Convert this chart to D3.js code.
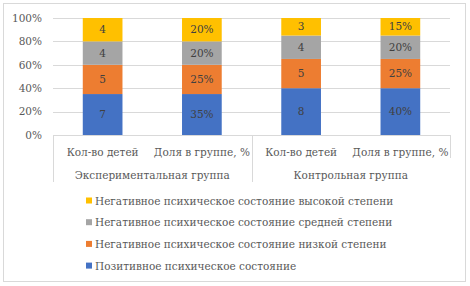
<!DOCTYPE html>
<html lang="ru">
<head>
<meta charset="UTF-8">
<script src="https://d3js.org/d3.v7.min.js"></script>
<style>
  body { margin: 0; background: #fff; }
</style>
</head>
<body>
<svg id="chart" width="470" height="286"></svg>
<script>
// categories
const groups = ["Экспериментальная группа", "Контрольная группа"];
const subCats = ["Кол-во детей", "Доля в группе, %"];
const seriesNames = [
  "Позитивное психическое состояние",
  "Негативное психическое состояние низкой степени",
  "Негативное психическое состояние средней степени",
  "Негативное психическое состояние высокой степени"
];
const seriesColors = ["#4472C4", "#ED7D31", "#A5A5A5", "#FFC000"];

// values per column (exp: count, share; ctrl: count, share)
const positive = [7, 35, 8, 40];
const negLow = [5, 25, 5, 25];
const negMid = [4, 20, 4, 20];
const negHigh = [4, 20, 3, 15];
const suffix = ["", "%", "", "%"];
const yTicks = [0, 20, 40, 60, 80, 100];

const FONT = "'DejaVu Serif', serif";

const values = [positive, negLow, negMid, negHigh];
const cols = [];
groups.forEach((g, gi) => subCats.forEach((s, si) => cols.push({ key: gi + "-" + si, group: g, gi, sub: s })));

const svg = d3.select("#chart");
const margin = { left: 53, top: 18 };
const W = 470, H = 286;
const plotW = 450 - margin.left, plotH = 135 - margin.top;

// border
svg.append("rect").attr("x", 3.5).attr("y", 3.5).attr("width", W - 8).attr("height", H - 8)
  .attr("fill", "none").attr("stroke", "#d9d9d9");

const g = svg.append("g").attr("transform", `translate(${margin.left},${margin.top})`);

const x = d3.scaleBand().domain(cols.map(c => c.key)).range([0, plotW]).paddingInner(0.6).paddingOuter(0.3);
const y = d3.scaleLinear().domain([0, 100]).range([plotH, 0]);

// gridlines
g.selectAll(".grid").data(yTicks.slice(1)).enter().append("line")
  .attr("x1", 0).attr("x2", plotW)
  .attr("y1", d => Math.round(y(d)) + 0.5).attr("y2", d => Math.round(y(d)) + 0.5)
  .attr("stroke", "#d9d9d9");

// y axis labels
const yAxis = g.append("g").call(d3.axisLeft(y).tickValues(yTicks).tickFormat(d => d + "%").tickSize(0).tickPadding(11));
yAxis.attr("font-family", null).attr("font-size", null);
yAxis.select(".domain").remove();
yAxis.selectAll("text").attr("fill", "#595959");

// stacked bars (100%)
const stackData = cols.map((c, i) => {
  const total = d3.sum(values, v => v[i]);
  let acc = 0;
  return values.map((v, si) => {
    const y0 = acc / total * 100;
    acc += v[i];
    return { col: c.key, si, y0, y1: acc / total * 100, raw: v[i], suf: suffix[i] };
  });
}).flat();

g.selectAll(".seg").data(stackData).enter().append("rect")
  .attr("x", d => x(d.col)).attr("width", x.bandwidth())
  .attr("y", d => y(d.y1)).attr("height", d => y(d.y0) - y(d.y1))
  .attr("fill", d => seriesColors[d.si]);

g.selectAll(".lbl").data(stackData).enter().append("text")
  .attr("class", "lbl")
  .attr("x", d => x(d.col) + x.bandwidth() / 2)
  .attr("y", d => y((d.y0 + d.y1) / 2))
  .attr("dy", "0.35em").attr("text-anchor", "middle")
  .attr("fill", "#404040")
  .text(d => d.raw + d.suf);

// category axis
g.append("line").attr("x1", 0).attr("x2", plotW).attr("y1", plotH + 0.5).attr("y2", plotH + 0.5).attr("stroke", "#d9d9d9");
[0, 2, 4].forEach(i => {
  const xx = Math.round(i === 4 ? plotW : x(cols[i].key) - x.bandwidth() * 0.75) + 0.5;
  g.append("line").attr("x1", xx).attr("x2", xx).attr("y1", plotH).attr("y2", i === 4 ? plotH + 23 : plotH + 47)
    .attr("stroke", "#d9d9d9");
});
g.selectAll(".sub").data(cols).enter().append("text")
  .attr("x", d => x(d.key) + x.bandwidth() / 2).attr("y", plotH + 21)
  .attr("text-anchor", "middle").attr("fill", "#595959").text(d => d.sub);
g.selectAll(".grp").data(groups).enter().append("text")
  .attr("x", (d, gi) => (x(cols[gi * 2].key) + x(cols[gi * 2 + 1].key) + x.bandwidth()) / 2)
  .attr("y", plotH + 44).attr("text-anchor", "middle").attr("fill", "#595959").text(d => d);

// legend (reverse order)
const leg = svg.append("g").attr("transform", "translate(86,201)");
const legOrder = seriesNames.map((n, i) => i).reverse();
legOrder.forEach((si, k) => {
  const row = leg.append("g").attr("transform", `translate(0,${k * 21.7})`);
  row.append("rect").attr("x", 0).attr("y", -3.5).attr("width", 6).attr("height", 6).attr("fill", seriesColors[si]);
  row.append("text").attr("x", 9).attr("y", 0).attr("dy", "0.35em").attr("fill", "#595959").text(seriesNames[si]);
});

svg.selectAll("text").style("font-family", FONT).style("font-size", "10.5px");
</script>
</body>
</html>
